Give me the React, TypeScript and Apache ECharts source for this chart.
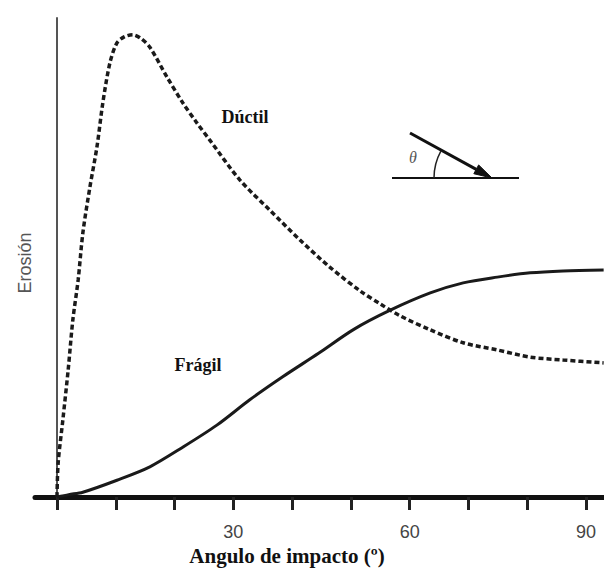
import React, { useEffect, useRef } from "react";
import * as echarts from "echarts";

const ductilAngles = [0, 0.2, 1.0, 1.9, 2.7, 3.6, 4.4, 5.6, 6.8, 7.8, 9.0, 10.2, 11.5, 12.9, 14.3, 15.8, 18.7, 21.4, 23.8, 26.0, 31.1, 36.2, 41.3, 46.4, 51.6, 55.0, 58.4, 63.5, 69.1, 74.9, 80.5, 86.1, 93];
const ductilValues = [0, 7.1, 16.1, 26.5, 37.0, 45.3, 55.1, 64.7, 73.1, 82.3, 90.6, 94.8, 96.1, 96.5, 95.7, 93.9, 87.7, 82.3, 78.1, 74.5, 66.2, 59.9, 53.7, 48.0, 43.0, 40.3, 37.8, 34.9, 32.2, 30.7, 29.2, 28.6, 28.0];

const fragilAngles = [0, 2, 4.4, 10.2, 15.8, 21.4, 27.2, 32.8, 38.4, 44.5, 50.5, 56.7, 63.5, 69.1, 74.9, 80.5, 86.1, 93];
const fragilValues = [0, 0.5, 1.0, 3.5, 6.3, 10.4, 15.0, 20.3, 25.1, 30.0, 35.0, 39.0, 42.6, 44.7, 45.9, 46.8, 47.2, 47.4];

const tickValues = [0, 10, 20, 30, 40, 50, 60, 70, 80, 90];
const labelValues = [30, 60, 90];

const xTitle = "Angulo de impacto (º)";
const yTitle = "Erosión";
const ductilLabel = "Dúctil";
const fragilLabel = "Frágil";
const thetaLabel = "θ";

export default function App() {
  const ref = useRef<HTMLDivElement>(null);

  useEffect(() => {
    document.body.style.margin = "0";
    if (!ref.current) return;
    const chart = echarts.init(ref.current, undefined, { renderer: "svg" });

    // inset arrow geometry (decoration)
    const tip = [492, 178];
    const ux = 0.876, uy = 0.482;
    const nx = -0.482, ny = 0.876;
    const hl = 18, hw = 5;
    const bx = tip[0] - hl * ux, by = tip[1] - hl * uy;

    chart.setOption({
      animation: false,
      backgroundColor: "#ffffff",
      grid: { left: 35, right: 0, top: 18, bottom: 72, containLabel: false, outerBoundsMode: "none" },
      xAxis: {
        type: "value",
        min: -3.74,
        max: 93.06,
        splitLine: { show: false },
        axisLine: { show: true, onZero: false, lineStyle: { color: "#111", width: 5 } },
        axisTick: {
          show: true,
          customValues: tickValues,
          length: 13,
          inside: false,
          lineStyle: { color: "#222", width: 3 },
        },
        axisLabel: {
          show: true,
          customValues: labelValues,
          margin: 26,
          color: "#444",
          fontSize: 18,
          fontFamily: "Liberation Sans, Arial, sans-serif",
        },
      },
      yAxis: {
        type: "value",
        min: 0,
        max: 100,
        splitLine: { show: false },
        axisLine: { show: true, onZero: true, lineStyle: { color: "#555", width: 2 } },
        axisTick: { show: false },
        axisLabel: { show: false },
      },
      series: [
        {
          name: ductilLabel,
          type: "line",
          data: ductilAngles.map((a, i) => [a, ductilValues[i]]),
          smooth: 0.3,
          symbol: "none",
          lineStyle: { color: "#1a1a1a", width: 3.5, type: [5, 3] },
        },
        {
          name: fragilLabel,
          type: "line",
          data: fragilAngles.map((a, i) => [a, fragilValues[i]]),
          smooth: 0.3,
          symbol: "none",
          lineStyle: { color: "#1a1a1a", width: 3, type: "solid" },
        },
      ],
      graphic: [
        {
          type: "text",
          x: 25,
          y: 263,
          rotation: Math.PI / 2,
          style: {
            text: yTitle,
            fill: "#555",
            font: "18px 'Liberation Sans', Arial, sans-serif",
            align: "center",
            verticalAlign: "middle",
          },
        },
        {
          type: "text",
          x: 287,
          y: 556,
          style: {
            text: xTitle,
            fill: "#111",
            font: "bold 21px 'Liberation Serif', 'Times New Roman', serif",
            align: "center",
            verticalAlign: "middle",
          },
        },
        {
          type: "text",
          x: 245,
          y: 117,
          style: {
            text: ductilLabel,
            fill: "#111",
            font: "bold 18px 'Liberation Serif', 'Times New Roman', serif",
            align: "center",
            verticalAlign: "middle",
          },
        },
        {
          type: "text",
          x: 198,
          y: 365,
          style: {
            text: fragilLabel,
            fill: "#111",
            font: "bold 18px 'Liberation Serif', 'Times New Roman', serif",
            align: "center",
            verticalAlign: "middle",
          },
        },
        {
          type: "line",
          shape: { x1: 392, y1: 178, x2: 519, y2: 178 },
          style: { stroke: "#111", lineWidth: 2 },
        },
        {
          type: "line",
          shape: { x1: 410, y1: 133, x2: bx, y2: by },
          style: { stroke: "#111", lineWidth: 3 },
        },
        {
          type: "polygon",
          shape: {
            points: [
              [tip[0], tip[1]],
              [bx + hw * nx, by + hw * ny],
              [bx - hw * nx, by - hw * ny],
            ],
          },
          style: { fill: "#111", stroke: "#111", lineWidth: 1 },
        },
        {
          type: "arc",
          shape: { cx: 490, cy: 178, r: 56, startAngle: Math.PI + 0.5, endAngle: Math.PI, clockwise: false },
          style: { stroke: "#222", lineWidth: 1.5, fill: "none" },
        },
        {
          type: "text",
          x: 413,
          y: 157,
          style: {
            text: thetaLabel,
            fill: "#555",
            font: "italic 16px 'Liberation Serif', 'Times New Roman', serif",
            align: "center",
            verticalAlign: "middle",
          },
        },
      ],
    });

    return () => chart.dispose();
  }, []);

  return <div ref={ref} style={{ width: 604, height: 569 }} />;
}
